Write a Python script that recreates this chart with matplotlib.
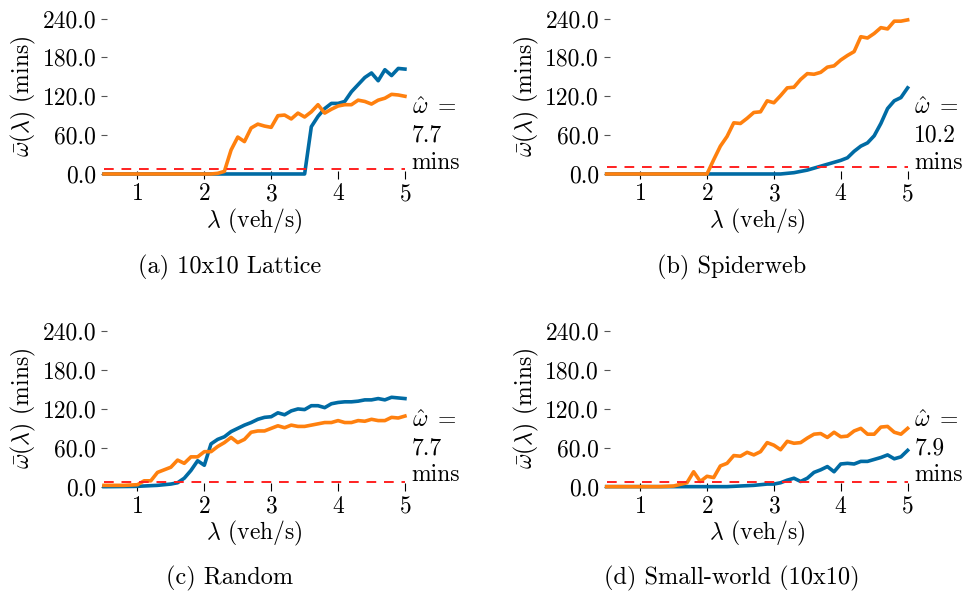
import numpy as np
import matplotlib
matplotlib.use("Agg")
import matplotlib.pyplot as plt
from matplotlib.ticker import FormatStrFormatter

plt.rcParams['font.family'] = ['cmr10', 'DejaVu Serif']
plt.rcParams['mathtext.fontset'] = 'cm'
plt.rcParams['axes.formatter.use_mathtext'] = True

lam = np.round(np.arange(0.5, 5.01, 0.1), 1)

# (a) 10x10 Lattice
a_blue = [0]*31 + [73, 89, 101, 109, 109, 112, 127, 138, 149, 156, 144, 161, 152, 163, 162]
a_orange = [0]*17 + [1, 4, 37, 57, 50, 71, 77, 74, 72, 90, 91, 85, 94, 88, 96, 107, 94, 100,
                     105, 107, 107, 114, 112, 108, 114, 117, 123, 122, 120]
# (b) Spiderweb
b_blue = [0]*27 + [1, 2, 4, 6, 9, 12, 15, 18, 21, 25, 35, 43, 48, 59, 78, 101, 113, 118, 133]
b_orange = [0]*16 + [22, 43, 58, 79, 78, 86, 95, 96, 113, 110, 121, 133, 134, 146, 155, 154,
                     157, 165, 167, 176, 183, 189, 212, 210, 217, 226, 224, 236, 236, 238]
# (c) Random
c_blue = [0, 0, 0.1, 0.2, 0.3, 0.5, 1, 1.5, 2, 3, 4, 6, 13, 25, 40, 33, 66, 73, 77, 85, 90, 95,
          99, 104, 107, 108, 114, 111, 117, 120, 119, 125, 125, 122, 128, 130, 131, 131, 132,
          134, 134, 136, 134, 138, 137, 136]
c_orange = [2, 2, 2, 2, 2.5, 3, 9, 9, 22, 26, 30, 41, 36, 46, 46, 54, 54, 62, 68, 76, 68, 73,
            84, 86, 86, 90, 94, 91, 95, 93, 93, 95, 97, 99, 99, 102, 99, 99, 102, 101, 104,
            102, 102, 107, 106, 109]
# (d) Small-world (10x10)
d_blue = [0]*19 + [0.5, 1, 1.5, 2, 3, 4, 4, 6, 10, 13, 8, 13, 22, 26, 31, 23, 35, 36, 35, 39,
                   39, 42, 45, 49, 43, 46, 56]
d_orange = [0]*9 + [0.5, 1, 3.5, 6, 23, 8, 16, 14, 32, 36, 48, 47, 53, 49, 54, 68, 64, 57, 70,
                    67, 68, 75, 81, 82, 76, 84, 77, 78, 86, 90, 81, 81, 92, 93, 84, 81, 90]

thresholds = [7.7, 10.2, 7.7, 7.9]
captions = ["(a) 10x10 Lattice", "(b) Spiderweb", "(c) Random", "(d) Small-world (10x10)"]
blues = [a_blue, b_blue, c_blue, d_blue]
oranges = [a_orange, b_orange, c_orange, d_orange]
yticks = [0, 60, 120, 180, 240]
xticks = [1, 2, 3, 4, 5]

BLUE = '#006BA4'
ORANGE = '#FF800E'

fig = plt.figure(figsize=(9.63, 5.96), dpi=100)
lefts = [0.108, 0.630, 0.108, 0.630]
bottoms = [0.707, 0.707, 0.1824, 0.1824]
cap_x = [230/963, 732/963, 230/963, 732/963]
cap_y = [1-267/596, 1-267/596, 1-578/596, 1-578/596]

for i in range(4):
    ax = fig.add_axes([lefts[i], bottoms[i], 0.3125, 0.264])
    ax.plot(lam, blues[i], color=BLUE, lw=2.6, clip_on=False, zorder=2)
    ax.plot(lam, oranges[i], color=ORANGE, lw=2.6, clip_on=False, zorder=3)
    ax.axhline(thresholds[i], color='#FF2020', lw=1.4, ls=(0, (5, 4)), zorder=4)
    ax.set_xlim(0.5, 5.0)
    ax.set_ylim(-1, 242)
    ax.set_yticks(yticks)
    ax.set_xticks(xticks)
    ax.yaxis.set_major_formatter(FormatStrFormatter('%.1f'))
    for s in ax.spines.values():
        s.set_visible(False)
    ax.tick_params(axis='y', direction='inout', length=5, width=0.8, colors='#555555',
                   labelcolor='black', labelsize=17, pad=3)
    ax.tick_params(axis='x', direction='inout', length=6, width=0.8, colors='black',
                   labelsize=17, pad=3)
    ax.set_xlabel(r'$\lambda$ (veh/s)', fontsize=17, labelpad=1)
    ax.set_ylabel(r'$\bar{\omega}(\lambda)$ (mins)', fontsize=17, labelpad=3)
    ax.text(1.022, 0.25, r'$\hat{\omega}\ =$' + '\n' + f'{thresholds[i]}' + '\nmins',
            transform=ax.transAxes, ha='left', va='center', fontsize=17, linespacing=1.3)
    fig.text(cap_x[i], cap_y[i], captions[i], ha='center', va='center', fontsize=17.5)

fig.savefig('out.png', dpi=100)
